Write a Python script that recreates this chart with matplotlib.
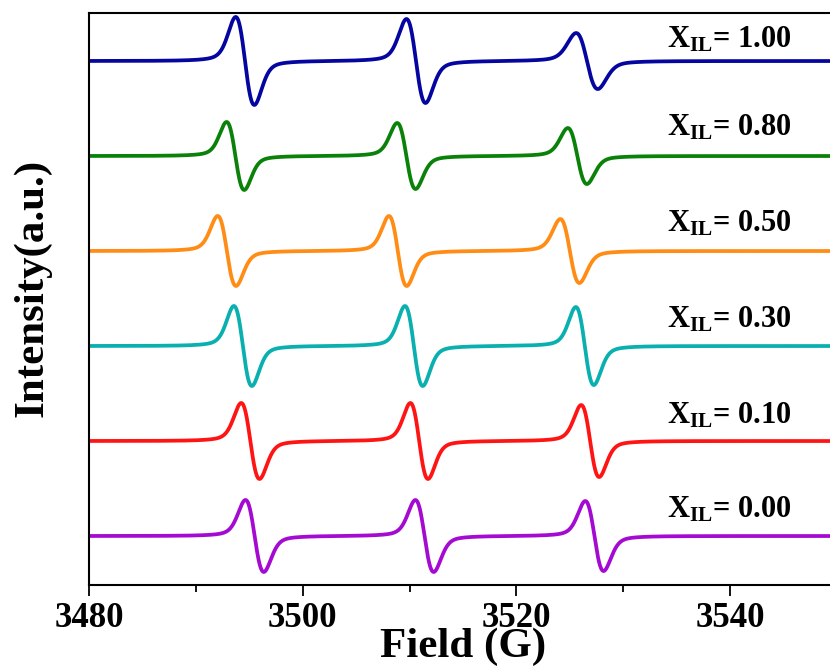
import matplotlib
matplotlib.use('Agg')
import matplotlib.pyplot as plt
import numpy as np

plt.rcParams['font.family'] = 'Liberation Serif'
plt.rcParams['font.weight'] = 'bold'
plt.rcParams['mathtext.fontset'] = 'custom'
plt.rcParams['mathtext.rm'] = 'Liberation Serif:bold'
plt.rcParams['mathtext.bf'] = 'Liberation Serif:bold'
plt.rcParams['mathtext.it'] = 'Liberation Serif:bold:italic'

# three hyperfine lines per sample
labels = ['0.00', '0.10', '0.30', '0.50', '0.80', '1.00']
colors = ['#a50ad2', '#ff1414', '#0aafaf', '#ff8c14', '#0a820a', '#0505a0']
# line centres (G)
centers = [
    [3495.5, 3511.4, 3527.3],   # 0.00
    [3495.1, 3510.9, 3526.9],   # 0.10
    [3494.4, 3510.4, 3526.4],   # 0.30
    [3492.9, 3508.9, 3525.0],   # 0.50
    [3493.7, 3509.7, 3525.7],   # 0.80
    [3494.6, 3510.6, 3526.6],   # 1.00
]
# peak-to-peak widths (G)
widths = [
    [1.71, 1.71, 1.71],
    [1.71, 1.65, 1.68],
    [1.68, 1.66, 1.68],
    [1.71, 1.66, 1.78],
    [1.65, 1.72, 1.78],
    [1.74, 1.78, 2.02],
]
# half peak-to-peak amplitudes (a.u.)
amps = [
    [36, 36, 35],
    [38, 38, 36],
    [40, 40, 39],
    [35, 35, 32],
    [34, 33, 28],
    [44, 42, 28],
]
offsets = np.arange(6) * 95
label_dy = [18, 18, 18, 20, 21, 14]
eta = 0.3   # lorentzian fraction of the line shape


def deriv_line(b, c, pp, a):
    """first-derivative line (gauss/lorentz mix), extrema at c -/+ pp/2"""
    u = (b - c) / (pp / 2)
    g = -u * np.exp((1 - u**2) / 2)
    l = -u / (1 + u**2 / 3)**2 * 16 / 9
    return a * (eta * l + (1 - eta) * g)


field = np.linspace(3480, 3550, 4000)

fig = plt.figure(figsize=(8.3, 6.7), dpi=100)
ax = fig.add_axes([89 / 830, 85 / 670, 748 / 830, 572 / 670])

for k in range(6):
    y = np.zeros_like(field)
    for c, w, a in zip(centers[k], widths[k], amps[k]):
        y += deriv_line(field, c, w, a)
    ax.plot(field, y + offsets[k], color=colors[k], lw=2.7)
    ax.text(3534.1, offsets[k] + label_dy[k],
            r'$\mathbf{X_{IL}}$= ' + labels[k], fontsize=22,
            fontweight='bold', va='baseline', ha='left')

ax.set_xlim(3480, 3550)
ax.set_ylim(-49, 523)
ax.set_xticks([3480, 3500, 3520, 3540])
ax.set_xticks([3490, 3510, 3530, 3550], minor=True)
ax.set_yticks([])
ax.tick_params(axis='x', which='major', direction='out', length=8,
               width=1.3, labelsize=25, pad=4)
ax.tick_params(axis='x', which='minor', direction='out', length=5, width=1.3)
for s in ax.spines.values():
    s.set_linewidth(1.5)

ax.set_xlabel('Field (G)', fontsize=31, fontweight='bold', labelpad=-5)
ax.set_ylabel('Intensity(a.u.)', fontsize=31, fontweight='bold')
ax.yaxis.set_label_coords(-0.05, 0.52)

fig.savefig('out.png', dpi=100)
